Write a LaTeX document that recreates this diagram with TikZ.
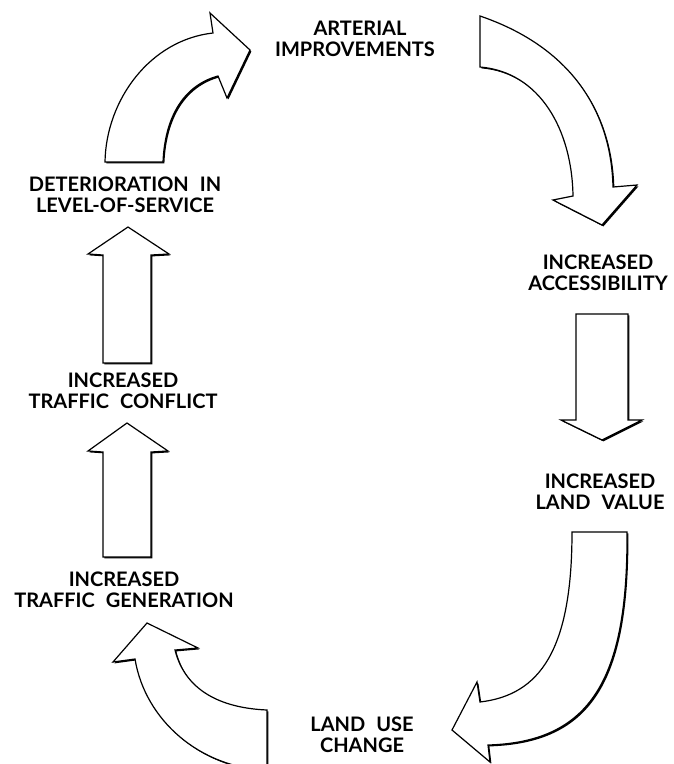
\documentclass[tikz,border=0pt]{standalone}
\usepackage{fontspec}
\setmainfont{Lato}
% hollow block arrow with a thin offset shadow on its lower right side
\newcommand\drawblock[1]{%
  \fill[black,shift={(1.4,1.4)}] #1;
  \filldraw[blockarrow] #1;}
\newcommand\wsp{\hspace{11pt}}
\begin{document}
\begin{tikzpicture}[x=1pt,y=-1pt,
  blockarrow/.style={fill=white,draw=black,line width=1.2pt,line join=miter},
  caption/.style={font=\fontsize{20}{21}\selectfont\bfseries,align=center,inner sep=0pt}]
\useasboundingbox (0,0) rectangle (673,764);
\clip (0,0) rectangle (673,764);

% curved arrow, upper left
\drawblock{(163,162) .. controls (165,115) and (185,85) .. (218,76) -- (227,98) -- (250,50)
  -- (210,13) -- (213,33) .. controls (150,40) and (106,100) .. (105,162) -- cycle}
% curved arrow, upper right
\drawblock{(480,67) .. controls (540,72) and (572,130) .. (573,196) -- (553,200) -- (602,225)
  -- (637,185) -- (613,187) .. controls (611,105) and (565,45) .. (480,16) -- cycle}
% curved arrow, lower right
\drawblock{(572,532) .. controls (572,650) and (540,695) .. (480,702) -- (477,682) -- (452,730)
  -- (490,762) -- (488,745) .. controls (590,742) and (628,680) .. (627,532) -- cycle}
% curved arrow, lower left
\drawblock{(267,710) .. controls (220,708) and (185,690) .. (175,650) -- (198,648) -- (147,623)
  -- (113,662) -- (135,659) .. controls (145,720) and (200,768) .. (267,770) -- cycle}
% straight arrows
\drawblock{(576,314) -- (628,314) -- (628,420) -- (642,420) -- (602,440) -- (561,420) -- (576,420) -- cycle}
\drawblock{(103,363) -- (103,255) -- (88,254) -- (128,227) -- (169,254) -- (151,255) -- (151,363) -- cycle}
\drawblock{(103,557) -- (103,452) -- (88,451) -- (127,423) -- (168,451) -- (151,452) -- (151,557) -- cycle}

% stages of the cycle
\node[caption] (arterial) at (355,39) {\hspace*{10pt}ARTERIAL\\IMPROVEMENTS};
\node[caption] (access) at (598,273) {INCREASED\\ACCESSIBILITY};
\node[caption] (landvalue) at (600,492) {INCREASED\\LAND\wsp VALUE};
\node[caption] (landuse) at (362,735) {LAND\wsp USE\\CHANGE};
\node[caption] (generation) at (124,590) {INCREASED\\TRAFFIC\wsp GENERATION};
\node[caption] (conflict) at (123,391) {INCREASED\\TRAFFIC\wsp CONFLICT};
\node[caption] (deterioration) at (125,195) {DETERIORATION\wsp IN\\LEVEL-OF-SERVICE};
\end{tikzpicture}
\end{document}
